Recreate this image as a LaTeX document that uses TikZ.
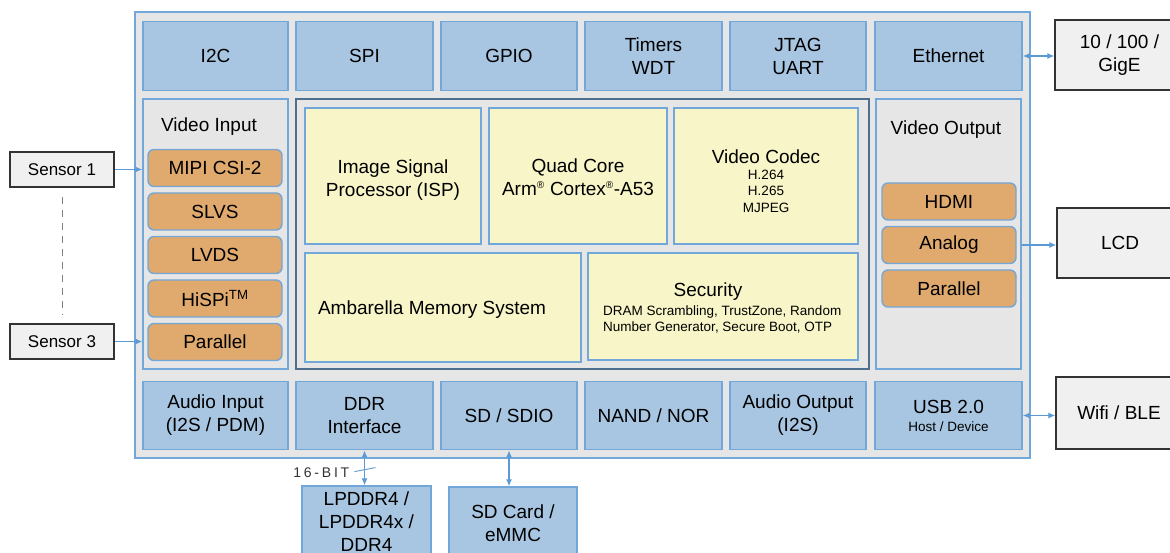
\documentclass[tikz,border=0pt]{standalone}
\usepackage{fontspec}
\setmainfont{Liberation Sans}
\usetikzlibrary{positioning,arrows.meta}

\definecolor{chipgray}{HTML}{E7E6E6}
\definecolor{busblue}{HTML}{A8C6E1}
\definecolor{busedge}{HTML}{72A7D9}
\definecolor{paneledge}{HTML}{4E6E8E}
\definecolor{portfill}{HTML}{E0A96E}
\definecolor{corefill}{HTML}{F8F6C8}
\definecolor{extfill}{HTML}{F0F0F0}
\definecolor{extedge}{HTML}{333333}
\definecolor{linkblue}{HTML}{5B9BD5}

\newcommand\smalltxt{\fontsize{13.5}{16.5}\selectfont}
\newcommand\regmark{\textsuperscript{\fontsize{10}{10}\selectfont ®}}
\newcommand\lowered[2]{\raisebox{-#1}[\height][\depth]{#2}}

\begin{document}
\begin{tikzpicture}
  [
    x=1pt, y=-1pt,
    >={Latex[length=7pt,width=6pt]},
    txt/.style={
      inner sep=0pt, align=center,
      font=\fontsize{19}{23}\selectfont
    },
    periph/.style={
      txt, rectangle, fill=busblue, draw=busedge, line width=1.4pt,
      minimum width=137pt, minimum height=68.5pt
    },
    panel/.style={
      rectangle, fill=chipgray, draw=busedge, line width=1.4pt
    },
    port/.style={
      txt, rectangle, rounded corners=6pt, fill=portfill, draw=busedge,
      line width=1.4pt, minimum width=134pt, minimum height=37pt
    },
    core/.style={
      txt, rectangle, fill=corefill, draw=busedge, line width=1.4pt,
      minimum height=136pt
    },
    ext/.style={
      txt, rectangle, fill=extfill, draw=extedge, line width=1.3pt
    },
    link/.style={
      draw=linkblue, line width=1.2pt
    }
  ]
\useasboundingbox (0,0) rectangle (1170,553);

% Chip
\node (chip) [panel, line width=2pt, minimum width=895pt, minimum height=446pt] at (582.5,235) {};

% Top row
\node (i2c)    [periph, minimum width=145pt] at (215.5,56) {I2C};
\node (spi)    [periph]                      at (364.5,56) {SPI};
\node (gpio)   [periph, minimum width=136pt] at (509,56)   {GPIO};
\node (timers) [periph]                      at (653.5,56) {Timers\\WDT};
\node (jtag)   [periph, minimum width=136pt] at (798,56)   {JTAG\\UART};
\node (eth)    [periph, minimum width=147pt] at (948.5,56) {Ethernet};

% Video input
\node (vin) [panel, minimum width=145pt, minimum height=270pt] at (215.5,234) {};
\node (vintitle) [txt] at (209,127) {Video Input};
\node (mipi)  [port] at (215,168)   {MIPI CSI-2};
\node (slvs)  [port] at (215,211.5) {SLVS};
\node (lvds)  [port] at (215,255)   {LVDS};
\node (hispi) [port] at (215,298.5) {HiSPi\textsuperscript{TM}};
\node (vpar)  [port] at (215,342)   {Parallel};

% Processing
\node (soc) [panel, draw=paneledge, line width=2.2pt, minimum width=573pt, minimum height=270pt] at (582.5,234) {};
\node (isp)   [core, minimum width=176pt] at (393,176)
  {\lowered{4pt}{\begin{tabular}{@{}c@{}}Image Signal\\Processor (ISP)\end{tabular}}};
\node (quad)  [core, minimum width=178pt] at (578,176)
  {\lowered{3pt}{\begin{tabular}{@{}c@{}}Quad Core\\Arm\regmark\ Cortex\regmark-A53\end{tabular}}};
\node (codec) [core, minimum width=184pt] at (766,176)
  {\lowered{7pt}{\begin{tabular}{@{}c@{}}Video Codec\\[-7pt]\smalltxt H.264\\[-6.5pt]\smalltxt H.265\\[-6.5pt]\smalltxt MJPEG\end{tabular}}};
\node (mem) [core, minimum width=276pt, minimum height=109pt, text width=250pt, align=flush left]
  at (443,307.5) {\lowered{2pt}{Ambarella Memory System}};
\node (sec) [core, minimum width=270pt, minimum height=107pt] at (723,306.5) {};
\node (sectitle) [txt] at (708,292) {Security};
\node (secinfo)  [txt, align=left, anchor=west, font=\smalltxt] at (603,319.5)
  {DRAM Scrambling, TrustZone, Random\\Number Generator, Secure Boot, OTP};

% Video output
\node (vout) [panel, minimum width=145pt, minimum height=270pt] at (948.5,234) {};
\node (vouttitle) [txt] at (946,130) {Video Output};
\node (hdmi)   [port] at (949,201.5) {HDMI};
\node (analog) [port] at (949,245)   {Analog};
\node (opar)   [port] at (949,288.5) {Parallel};

% Bottom row
\node (ain)  [periph, minimum width=145pt] at (215.5,415.5) {Audio Input\\(I2S / PDM)};
\node (ddr)  [periph]                      at (364.5,415.5) {DDR\\Interface};
\node (sd)   [periph, minimum width=136pt] at (509,415.5)   {SD / SDIO};
\node (nand) [periph]                      at (653.5,415.5) {NAND / NOR};
\node (aout) [periph, minimum width=136pt] at (798,415.5)   {Audio Output\\(I2S)};
\node (usb)  [periph, minimum width=147pt] at (948.5,415.5) {USB 2.0\\[-5pt]\smalltxt Host / Device};

% Outside
\node (s1)    [ext, minimum width=104pt, minimum height=35pt, font=\fontsize{17}{20}\selectfont] at (62,169.5) {Sensor 1};
\node (s3)    [ext, minimum width=104pt, minimum height=35pt, font=\fontsize{17}{20}\selectfont] at (62,341.5) {Sensor 3};
\node (gige)  [ext, minimum width=129pt, minimum height=70pt] at (1119.5,55) {10 / 100 /\\GigE};
\node (lcd)   [ext, minimum width=126pt, minimum height=70pt] at (1120,243)  {LCD};
\node (wifi)  [ext, minimum width=126pt, minimum height=72pt] at (1119,413)  {Wifi / BLE};
\node (lpddr) [periph, minimum width=129pt, minimum height=72pt] at (366.5,522) {LPDDR4 /\\LPDDR4x /\\DDR4};
\node (sdcard) [periph, minimum width=128pt, minimum height=72pt] at (513,523) {SD Card /\\eMMC};

% Links
\draw [gray, line width=0.9pt, dash pattern=on 7pt off 6pt] ([yshift=-9pt]s1.south) -- ([yshift=8pt]s3.north);
\draw [link, ->] (s1.east) -- (s1.east -| vin.west);
\draw [link, ->] (s3.east) -- (s3.east -| vin.west);
\draw [link, <->] (eth.east) -- (eth.east -| gige.west);
\draw [link, ->] (analog.east -| vout.east) -- (analog.east -| lcd.west);
\draw [link, <->] (usb.east) -- (usb.east -| wifi.west);
\draw [link, <->] (ddr.south) -- (ddr.south |- lpddr.north) coordinate[pos=0.55] (bus);
\draw [link, <->] (sd.south) -- (sd.south |- sdcard.north);
\draw [link, line width=0.9pt] ([shift={(-10,2)}]bus) -- ([shift={(11,-2)}]bus);
\node (bits) [txt, left=15pt of bus, yshift=-3pt, text=extedge, font=\fontsize{14}{16}\selectfont\addfontfeatures{LetterSpace=20}] {16-BIT};

\end{tikzpicture}
\end{document}
